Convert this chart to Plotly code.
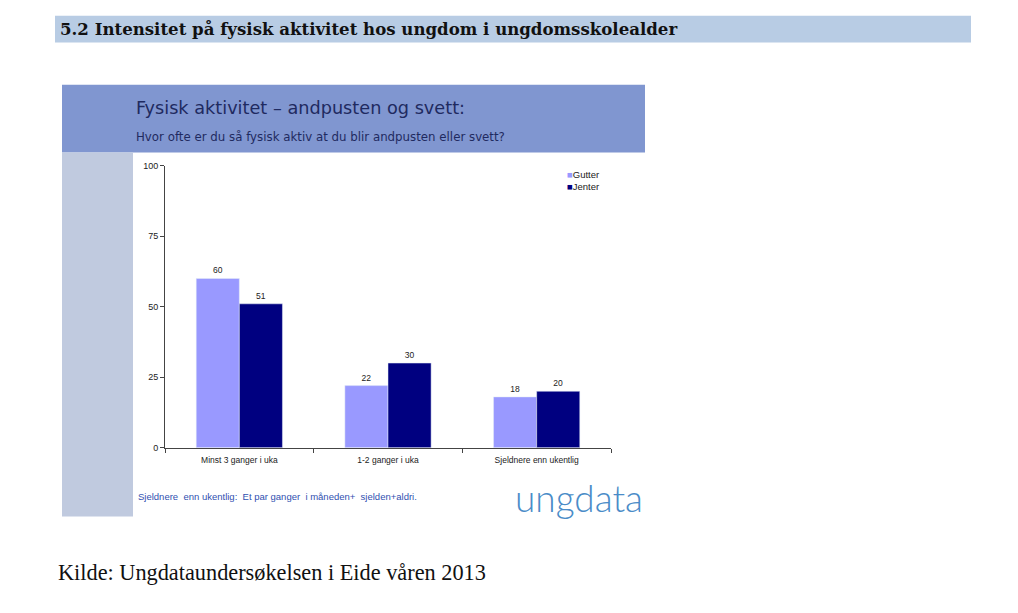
import plotly.graph_objects as go

categories = ["Minst 3 ganger i uka", "1-2 ganger i uka", "Sjeldnere enn ukentlig"]
gutter = [60, 22, 18]
jenter = [51, 30, 20]
series_names = ["Gutter", "Jenter"]
series_colors = ["#9999FF", "#000080"]
y_ticks = [0, 25, 50, 75, 100]

W, H = 1018, 613
def px(x): return x / W
def py(y): return 1 - y / H

fig = go.Figure()
for name, vals, col in zip(series_names, [gutter, jenter], series_colors):
    fig.add_trace(go.Bar(name=name, x=categories, y=vals, marker_color=col,
                         text=vals, textposition="outside", cliponaxis=False,
                         showlegend=False,
                         textfont=dict(size=8.5, color="#222", family="Liberation Sans")))

shapes = [
    dict(type="rect", xref="paper", yref="paper", x0=px(55), x1=px(971), y0=py(38), y1=py(11),
         fillcolor="#B8CCE4", line_width=0, layer="below"),
    dict(type="rect", xref="paper", yref="paper", x0=px(62), x1=px(645), y0=py(150), y1=py(81),
         fillcolor="#8096D0", line_width=0, layer="below"),
    dict(type="rect", xref="paper", yref="paper", x0=px(62), x1=px(133), y0=py(520), y1=py(150),
         fillcolor="#C0CADF", line_width=0, layer="below"),
]

annotations = [
    dict(text="<b>5.2 Intensitet på fysisk aktivitet hos ungdom i ungdomsskolealder</b>",
         x=px(58), y=py(24.5), xref="paper", yref="paper", xanchor="left", yanchor="middle",
         showarrow=False, font=dict(family="DejaVu Serif", size=16.6, color="#111")),
    dict(text="Fysisk aktivitet – andpusten og svett:",
         x=px(134), y=py(105), xref="paper", yref="paper", xanchor="left", yanchor="middle",
         showarrow=False, font=dict(family="DejaVu Sans", size=17.7, color="#1F2A60")),
    dict(text="Hvor ofte er du så fysisk aktiv at du blir andpusten eller svett?",
         x=px(134), y=py(134), xref="paper", yref="paper", xanchor="left", yanchor="middle",
         showarrow=False, font=dict(family="DejaVu Sans", size=11.8, color="#1F2A60")),
    dict(text="Sjeldnere  enn ukentlig:  Et par ganger  i måneden+  sjelden+aldri.",
         x=px(136), y=py(500), xref="paper", yref="paper", xanchor="left", yanchor="middle",
         showarrow=False, font=dict(family="Liberation Sans", size=9.5, color="#3050B0")),
    dict(text="ungdata",
         x=px(513), y=py(501), xref="paper", yref="paper", xanchor="left", yanchor="middle",
         showarrow=False, font=dict(family="Lato", size=37, color="#4A8CC8", weight=300)),
    dict(text="Kilde: Ungdataundersøkelsen i Eide våren 2013",
         x=px(56), y=py(577), xref="paper", yref="paper", xanchor="left", yanchor="middle",
         showarrow=False, font=dict(family="Liberation Serif", size=22.3, color="#111")),
]
for i, (name, col) in enumerate(zip(series_names, series_colors)):
    annotations.append(dict(
        text=f"<span style='color:{col}'>■</span>{name}",
        x=px(565), y=py(172 + 13 * i), xref="paper", yref="paper",
        xanchor="left", yanchor="middle", showarrow=False,
        font=dict(family="Liberation Sans", size=9.5, color="#222")))

fig.update_layout(
    width=W, height=H, autosize=False,
    margin=dict(l=0, r=0, t=0, b=0),
    paper_bgcolor="white", plot_bgcolor="white",
    barmode="group", bargap=0.42, bargroupgap=0,
    shapes=shapes, annotations=annotations,
    font=dict(family="Liberation Sans", size=8, color="#222"),
    xaxis=dict(domain=[px(165), px(611)], showline=True, linecolor="#444", linewidth=1,
               ticks="outside", tickson="boundaries", ticklen=4, tickcolor="#444",
               ticklabelstandoff=4,
               showgrid=False, tickfont=dict(size=8.5)),
    yaxis=dict(domain=[py(450), py(163.3)], range=[0, 100], tickvals=y_ticks,
               showline=True, linecolor="#444", linewidth=1, ticks="outside", ticklen=4,
               tickcolor="#444", showgrid=False, zeroline=False, tickfont=dict(size=9)),
)

fig.write_html("out.html", config={"displayModeBar": False},
               post_script="document.body.style.margin='0';")
